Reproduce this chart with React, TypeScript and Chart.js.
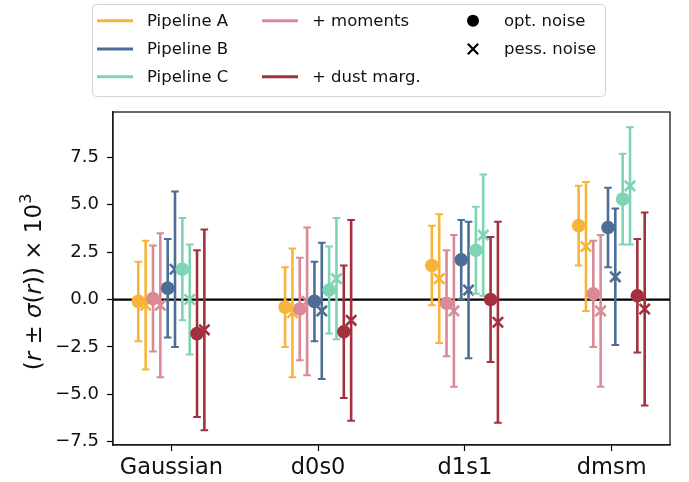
import React, { useEffect, useRef } from "react";
import { Chart, registerables } from "chart.js";

Chart.register(...registerables);

// ---- data -------------------------------------------------------------
const categories = ["Gaussian", "d0s0", "d1s1", "dmsm"];
const yTickValues = [-7.5, -5.0, -2.5, 0.0, 2.5, 5.0, 7.5];

// central values r x 10^3 and 1-sigma errors, one entry per category
const pipelineAOpt = [-0.1, -0.4, 1.8, 3.9];
const pipelineAOptSigma = [2.1, 2.1, 2.1, 2.1];
const pipelineAPess = [-0.3, -0.7, 1.1, 2.8];
const pipelineAPessSigma = [3.4, 3.4, 3.4, 3.4];

const momentsOpt = [0.05, -0.5, -0.2, 0.3];
const momentsOptSigma = [2.8, 2.7, 2.8, 2.8];
const momentsPess = [-0.3, -0.1, -0.6, -0.6];
const momentsPessSigma = [3.8, 3.9, 4.0, 4.0];

const pipelineBOpt = [0.6, -0.1, 2.1, 3.8];
const pipelineBOptSigma = [2.6, 2.1, 2.1, 2.1];
const pipelineBPess = [1.6, -0.6, 0.5, 1.2];
const pipelineBPessSigma = [4.1, 3.6, 3.6, 3.6];

const pipelineCOpt = [1.6, 0.5, 2.6, 5.3];
const pipelineCOptSigma = [2.7, 2.3, 2.3, 2.4];
const pipelineCPess = [0.0, 1.1, 3.4, 6.0];
const pipelineCPessSigma = [2.9, 3.2, 3.2, 3.1];

const dustOpt = [-1.8, -1.7, 0.0, 0.2];
const dustOptSigma = [4.4, 3.5, 3.3, 3.0];
const dustPess = [-1.6, -1.1, -1.2, -0.5];
const dustPessSigma = [5.3, 5.3, 5.3, 5.1];

// ---- styling ----------------------------------------------------------
const colors: Record<string, string> = {
  "Pipeline A": "#F8B43A",
  "Pipeline B": "#4C6E96",
  "Pipeline C": "#7FD4B6",
  "+ moments": "#D98A96",
  "+ dust marg.": "#A3303D",
};

const FONT = "'DejaVu Sans', Verdana, sans-serif";
const TEXT = "#111";

type Series = {
  method: string;
  noise: "opt" | "pess";
  values: number[];
  sigmas: number[];
};

// plotting order (left to right inside each category group)
const series: Series[] = [
  { method: "Pipeline A", noise: "opt", values: pipelineAOpt, sigmas: pipelineAOptSigma },
  { method: "Pipeline A", noise: "pess", values: pipelineAPess, sigmas: pipelineAPessSigma },
  { method: "+ moments", noise: "opt", values: momentsOpt, sigmas: momentsOptSigma },
  { method: "+ moments", noise: "pess", values: momentsPess, sigmas: momentsPessSigma },
  { method: "Pipeline B", noise: "opt", values: pipelineBOpt, sigmas: pipelineBOptSigma },
  { method: "Pipeline B", noise: "pess", values: pipelineBPess, sigmas: pipelineBPessSigma },
  { method: "Pipeline C", noise: "opt", values: pipelineCOpt, sigmas: pipelineCOptSigma },
  { method: "Pipeline C", noise: "pess", values: pipelineCPess, sigmas: pipelineCPessSigma },
  { method: "+ dust marg.", noise: "opt", values: dustOpt, sigmas: dustOptSigma },
  { method: "+ dust marg.", noise: "pess", values: dustPess, sigmas: dustPessSigma },
];

const DODGE = 0.05;

// error bars drawn right before each dataset's markers
const errorBarPlugin = {
  id: "errorBars",
  beforeDatasetDraw(chart: any, args: any) {
    const ds = chart.data.datasets[args.index];
    const sig: number[] = ds.sigmas;
    if (!sig) return;
    const ctx = chart.ctx;
    const ys = chart.scales.y;
    ctx.save();
    ctx.strokeStyle = ds.borderColor;
    ctx.lineCap = "butt";
    args.meta.data.forEach((pt: any, i: number) => {
      const v = ds.data[i].y;
      const top = ys.getPixelForValue(v + sig[i]);
      const bot = ys.getPixelForValue(v - sig[i]);
      ctx.lineWidth = 2.6;
      ctx.beginPath();
      ctx.moveTo(pt.x, top);
      ctx.lineTo(pt.x, bot);
      ctx.stroke();
      ctx.lineWidth = 2;
      ctx.beginPath();
      ctx.moveTo(pt.x - 3.8, top);
      ctx.lineTo(pt.x + 3.8, top);
      ctx.moveTo(pt.x - 3.8, bot);
      ctx.lineTo(pt.x + 3.8, bot);
      ctx.stroke();
    });
    ctx.restore();
  },
};

// horizontal reference line at r = 0
const zeroLinePlugin = {
  id: "zeroLine",
  beforeDatasetsDraw(chart: any) {
    const { ctx, chartArea } = chart;
    const y = chart.scales.y.getPixelForValue(0);
    ctx.save();
    ctx.strokeStyle = "#000";
    ctx.lineWidth = 2.2;
    ctx.beginPath();
    ctx.moveTo(chartArea.left, y);
    ctx.lineTo(chartArea.right, y);
    ctx.stroke();
    ctx.restore();
  },
};

// full box around the plotting area
const framePlugin = {
  id: "frame",
  afterDatasetsDraw(chart: any) {
    const { ctx, chartArea } = chart;
    ctx.save();
    ctx.strokeStyle = "#1a1a1a";
    ctx.lineWidth = 1.3;
    ctx.strokeRect(chartArea.left, chartArea.top, chartArea.right - chartArea.left, chartArea.bottom - chartArea.top);
    ctx.restore();
  },
};

// rotated y-axis title with italic math symbols
const yTitlePlugin = {
  id: "yTitle",
  afterDraw(chart: any) {
    const ctx = chart.ctx;
    const size = 23;
    const parts: { t: string; italic?: boolean; sup?: boolean }[] = [
      { t: "(" },
      { t: "r", italic: true },
      { t: " \u00b1 " },
      { t: "\u03c3", italic: true },
      { t: "(" },
      { t: "r", italic: true },
      { t: "))" },
      { t: " \u00d7 10" },
      { t: "3", sup: true },
    ];
    const fontFor = (p: any) =>
      `${p.italic ? "italic " : ""}${p.sup ? Math.round(size * 0.7) : size}px ${FONT}`;
    ctx.save();
    let total = 0;
    parts.forEach((p) => {
      ctx.font = fontFor(p);
      total += ctx.measureText(p.t).width;
    });
    ctx.translate(41, 282);
    ctx.rotate(-Math.PI / 2);
    ctx.fillStyle = TEXT;
    ctx.textBaseline = "alphabetic";
    ctx.textAlign = "left";
    let x = -total / 2;
    parts.forEach((p) => {
      ctx.font = fontFor(p);
      ctx.fillText(p.t, x, p.sup ? -size * 0.45 : 0);
      x += ctx.measureText(p.t).width;
    });
    ctx.restore();
  },
};

// three-column legend box above the plot
const legendPlugin = {
  id: "customLegend",
  afterDraw(chart: any) {
    const ctx = chart.ctx;
    ctx.save();
    ctx.fillStyle = "rgba(255,255,255,0.85)";
    ctx.strokeStyle = "#d4d4d4";
    ctx.lineWidth = 1;
    ctx.beginPath();
    ctx.roundRect(92.5, 4.5, 513, 92, 4);
    ctx.fill();
    ctx.stroke();

    const rows = [20.7, 49, 76.7];
    ctx.font = `16.5px ${FONT}`;
    ctx.fillStyle = TEXT;
    ctx.textBaseline = "middle";
    ctx.textAlign = "left";

    const lineItem = (label: string, x0: number, row: number) => {
      ctx.strokeStyle = colors[label];
      ctx.lineWidth = 3;
      ctx.beginPath();
      ctx.moveTo(x0, rows[row]);
      ctx.lineTo(x0 + 36, rows[row]);
      ctx.stroke();
      ctx.fillStyle = TEXT;
      ctx.fillText(label, x0 + 50, rows[row] + 1);
    };
    lineItem("Pipeline A", 97, 0);
    lineItem("Pipeline B", 97, 1);
    lineItem("Pipeline C", 97, 2);
    lineItem("+ moments", 262, 0);
    lineItem("+ dust marg.", 262, 2);

    // marker entries
    ctx.fillStyle = "#000";
    ctx.beginPath();
    ctx.arc(473, rows[0], 6, 0, Math.PI * 2);
    ctx.fill();
    ctx.strokeStyle = "#000";
    ctx.lineWidth = 2.2;
    ctx.beginPath();
    const s = 5.2;
    ctx.moveTo(473 - s, rows[1] - s);
    ctx.lineTo(473 + s, rows[1] + s);
    ctx.moveTo(473 - s, rows[1] + s);
    ctx.lineTo(473 + s, rows[1] - s);
    ctx.stroke();
    ctx.fillStyle = TEXT;
    ctx.fillText("opt. noise", 504, rows[0] + 1);
    ctx.fillText("pess. noise", 504, rows[1] + 1);
    ctx.restore();
  },
};

export default function App() {
  const canvasRef = useRef<HTMLCanvasElement | null>(null);

  useEffect(() => {
    document.body.style.margin = "0";
    const canvas = canvasRef.current;
    if (!canvas) return;

    const n = series.length;
    const datasets = series.map((s, k) => {
      const offset = (k - (n - 1) / 2) * DODGE;
      const color = colors[s.method];
      const isOpt = s.noise === "opt";
      return {
        label: `${s.method} (${s.noise})`,
        data: s.values.map((v, i) => ({ x: i + offset, y: v })),
        sigmas: s.sigmas,
        borderColor: color,
        backgroundColor: color,
        pointStyle: isOpt ? "circle" : "crossRot",
        pointRadius: isOpt ? 6.8 : 7.3,
        pointBorderWidth: isOpt ? 0 : 2.6,
        pointHoverRadius: isOpt ? 6.8 : 7.3,
        showLine: false,
        order: n - 1 - k,
      };
    });

    const chart = new Chart(canvas, {
      type: "scatter",
      data: { datasets: datasets as any },
      options: {
        animation: false,
        responsive: false,
        layout: { padding: { top: 112, right: 19, left: 0, bottom: 0 } },
        plugins: {
          legend: { display: false },
          tooltip: { enabled: false },
        },
        scales: {
          x: {
            type: "linear",
            min: -0.3975,
            max: 3.3975,
            afterBuildTicks: (scale: any) => {
              scale.ticks = categories.map((_, i) => ({ value: i }));
            },
            afterFit: (scale: any) => {
              scale.height = 37;
            },
            ticks: {
              callback: (v: any) => categories[Math.round(Number(v))] ?? "",
              font: { family: FONT, size: 22.5 },
              color: TEXT,
              padding: 4,
              maxRotation: 0,
              autoSkip: false,
            },
            grid: {
              drawOnChartArea: false,
              drawTicks: true,
              tickLength: 6,
              tickColor: "#000",
              tickWidth: 1.2,
            },
            border: { display: true, color: "#1a1a1a", width: 1.3 },
          },
          y: {
            type: "linear",
            min: -7.68,
            max: 9.9,
            afterBuildTicks: (scale: any) => {
              scale.ticks = yTickValues.map((v) => ({ value: v }));
            },
            afterFit: (scale: any) => {
              scale.width = 113;
            },
            ticks: {
              callback: (v: any) => Number(v).toFixed(1).replace("-", "\u2212"),
              font: { family: FONT, size: 18 },
              color: TEXT,
              padding: 8,
              autoSkip: false,
            },
            grid: {
              drawOnChartArea: false,
              drawTicks: true,
              tickLength: 6,
              tickColor: "#000",
              tickWidth: 1.2,
            },
            border: { display: true, color: "#1a1a1a", width: 1.3 },
          },
        },
      },
      plugins: [zeroLinePlugin, errorBarPlugin, framePlugin, yTitlePlugin, legendPlugin],
    });

    return () => chart.destroy();
  }, []);

  return (
    <div style={{ width: 689, height: 482, background: "#fff" }}>
      <canvas ref={canvasRef} width={689} height={482} style={{ display: "block" }} />
    </div>
  );
}
